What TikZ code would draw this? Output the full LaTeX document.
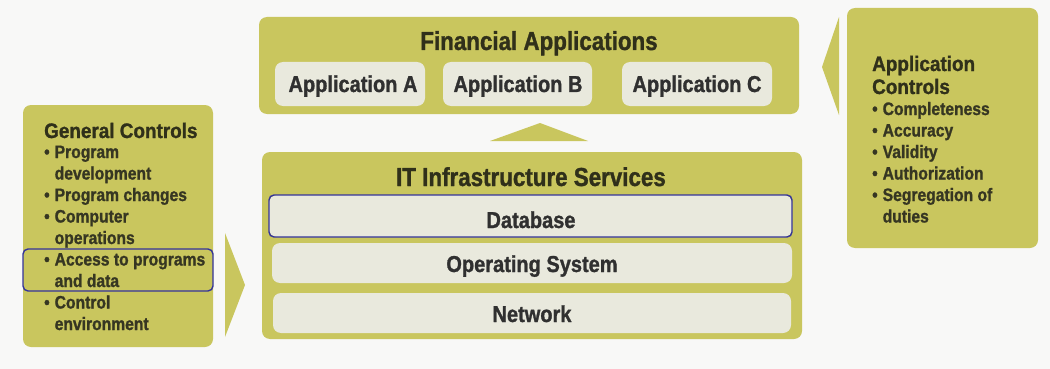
\documentclass[tikz,border=0pt]{standalone}
\usepackage{fontspec}
\setmainfont{Liberation Sans}
\newfontfamily\fTitle[FakeStretch=0.86,FakeBold=1.2]{Liberation Sans}
\newfontfamily\fItem[FakeStretch=0.87,FakeBold=1.2]{Liberation Sans}
\newfontfamily\fSide[FakeStretch=0.90,FakeBold=1.2]{Liberation Sans}
\newfontfamily\fSideI[FakeStretch=0.87,FakeBold=1.2]{Liberation Sans}
\definecolor{bgC}{HTML}{F8F8F7}
\definecolor{oliveC}{HTML}{C9C65E}
\definecolor{innerC}{HTML}{E9E9DD}
\definecolor{blueC}{HTML}{34349A}
\definecolor{titleC}{HTML}{30301A}
\definecolor{itemC}{HTML}{303030}
\definecolor{sideC}{HTML}{363622}
\tikzset{
  obox/.style={fill=oliveC, rounded corners=8pt, inner sep=0pt, outer sep=0pt, anchor=north west},
  ibox/.style={fill=innerC, rounded corners=8pt, inner sep=0pt, outer sep=0pt, anchor=north west},
  hilite/.style={draw=blueC, line width=1.4pt, rounded corners=5pt, inner sep=0pt, outer sep=0pt, anchor=north west},
  bigtitle/.style={font=\fTitle\bfseries\fontsize{26}{30}\selectfont, text=titleC, anchor=base, inner sep=0pt},
  itemtxt/.style={font=\fItem\bfseries\fontsize{23}{26}\selectfont, text=itemC, anchor=base, inner sep=0pt},
  sidetitle/.style={font=\fSide\bfseries\fontsize{21}{22}\selectfont, text=titleC, anchor=base west, inner sep=0pt},
  sideitem/.style={font=\fSideI\bfseries\fontsize{18}{21}\selectfont, text=sideC, anchor=base west, inner sep=0pt},
  arrowshape/.style={fill=oliveC}
}
\newcommand{\bul}{\makebox[10.5pt][l]{\textbullet}}
\newcommand{\ind}{\hspace*{10.5pt}}
\begin{document}
\begin{tikzpicture}[x=1pt,y=-1pt]
\useasboundingbox (0,0) rectangle (1050,369);
\fill[bgC] (0,0) rectangle (1050,369);

% Financial applications
\node[obox, minimum width=540pt, minimum height=97pt] (fin) at (259,17) {};
\node[bigtitle] (fint) at (539,50) {Financial Applications};
\node[ibox, minimum width=150pt, minimum height=44pt] (appA) at (275,62) {};
\node[ibox, minimum width=149pt, minimum height=44pt] (appB) at (443,62) {};
\node[ibox, minimum width=150pt, minimum height=44pt] (appC) at (622,62) {};
\node[itemtxt] (appAt) at (353,92) {Application A};
\node[itemtxt] (appBt) at (518,92) {Application B};
\node[itemtxt] (appCt) at (697,92) {Application C};

% up arrow
\fill[arrowshape] (490,141) -- (588,141) -- (540,123) -- cycle;

% IT infrastructure
\node[obox, minimum width=540pt, minimum height=187pt] (itb) at (262,152) {};
\node[bigtitle] (itt) at (531,186) {IT Infrastructure Services};
\node[ibox, minimum width=523pt, minimum height=42pt] (db) at (269,195) {};
\node[hilite, minimum width=523pt, minimum height=42pt] (dbh) at (269,195) {};
\node[ibox, minimum width=520pt, minimum height=40pt] (os) at (272,243) {};
\node[ibox, minimum width=518pt, minimum height=40pt] (net) at (273,293) {};
\node[itemtxt] (dbt) at (531,228) {Database};
\node[itemtxt] (ost) at (532,272) {Operating System};
\node[itemtxt] (nett) at (532,322) {Network};

% General controls
\node[obox, minimum width=190pt, minimum height=242pt] (gc) at (23,105) {};
\fill[arrowshape] (225,233) -- (245,285) -- (225,337) -- cycle;
\node[sidetitle] (gc0) at (44,138) {General Controls};
\node[sideitem] (gc1) at (44,158) {\bul Program};
\node[sideitem] (gc2) at (44,179.5) {\ind development};
\node[sideitem] (gc3) at (44,201) {\bul Program changes};
\node[sideitem] (gc4) at (44,222.5) {\bul Computer};
\node[sideitem] (gc5) at (44,244) {\ind operations};
\node[sideitem] (gc6) at (44,265.5) {\bul Access to programs};
\node[sideitem] (gc7) at (44,287) {\ind and data};
\node[sideitem] (gc8) at (44,308.5) {\bul Control};
\node[sideitem] (gc9) at (44,330) {\ind environment};
\node[hilite, minimum width=190pt, minimum height=42pt] (acch) at (23,249) {};

% Application controls
\node[obox, minimum width=191pt, minimum height=240pt] (ac) at (847,8) {};
\fill[arrowshape] (839,17) -- (822,67) -- (839,115) -- cycle;
\node[sidetitle] (ac0) at (872,71) {Application};
\node[sidetitle] (ac1) at (872,94) {Controls};
\node[sideitem] (ac2) at (872,115) {\bul Completeness};
\node[sideitem] (ac3) at (872,136.5) {\bul Accuracy};
\node[sideitem] (ac4) at (872,158) {\bul Validity};
\node[sideitem] (ac5) at (872,179.5) {\bul Authorization};
\node[sideitem] (ac6) at (872,201) {\bul Segregation of};
\node[sideitem] (ac7) at (872,222.5) {\ind duties};
\end{tikzpicture}
\end{document}
